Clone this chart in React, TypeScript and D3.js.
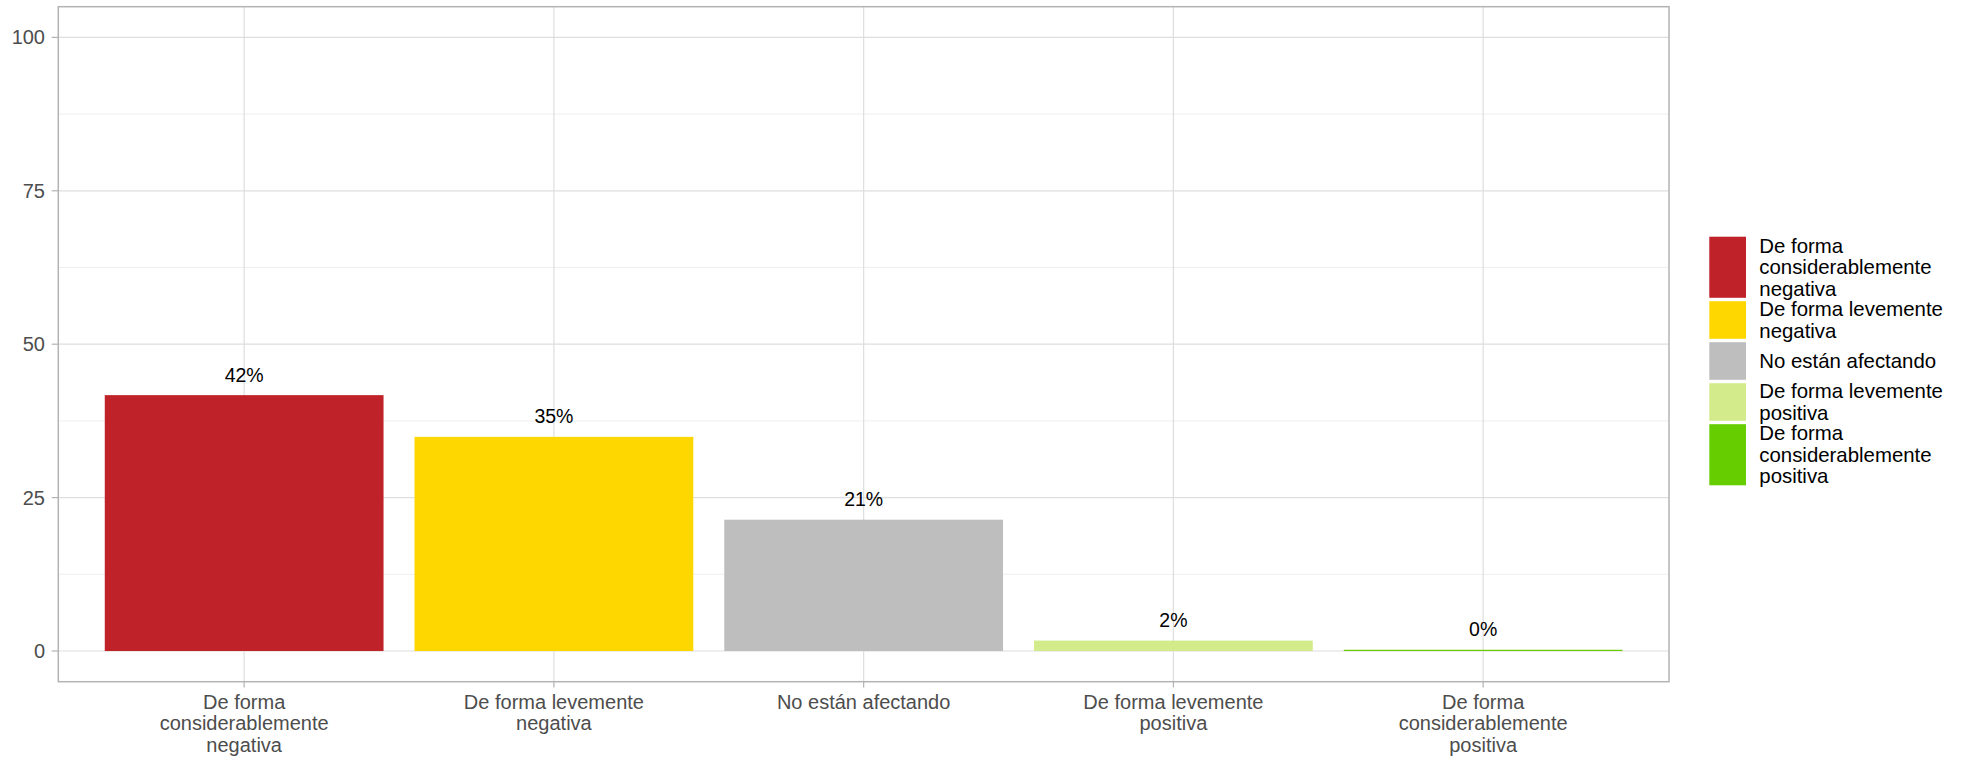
import React from "react";
import * as d3 from "d3";

const categories = [
  "De forma considerablemente negativa",
  "De forma levemente negativa",
  "No están afectando",
  "De forma levemente positiva",
  "De forma considerablemente positiva",
];
const values = [41.7, 34.9, 21.4, 1.7, 0.2];
const colors = ["#C0222A", "#FFD700", "#BEBEBE", "#D3EB8A", "#66CD00"];
const axisLabelLines = [
  ["De forma", "considerablemente", "negativa"],
  ["De forma levemente", "negativa"],
  ["No están afectando"],
  ["De forma levemente", "positiva"],
  ["De forma", "considerablemente", "positiva"],
];
const legendLabelLines = [
  ["De forma", "considerablemente", "negativa"],
  ["De forma levemente", "negativa"],
  ["No están afectando"],
  ["De forma levemente", "positiva"],
  ["De forma", "considerablemente", "positiva"],
];
const yTicks = [0, 25, 50, 75, 100];
const yMinorTicks = [12.5, 37.5, 62.5, 87.5];

const W = 1970;
const H = 760;
const panel = { left: 58.3, right: 1669, top: 6.7, bottom: 681.7 };
const FONT = "'Liberation Sans', Arial, Helvetica, sans-serif";
const FS = 20;
const LH = 21.6;

export default function App() {
  const x = d3
    .scaleBand<string>()
    .domain(categories)
    .range([panel.left, panel.right])
    .paddingInner(0.1)
    .paddingOuter(0.15);
  const y = d3.scaleLinear().domain([-5, 105]).range([panel.bottom, panel.top]);
  const fmt = (v: number) => d3.format(".0f")(v) + "%";

  // legend layout
  const legendTop = 235;
  const keyX0 = 1709.3;
  const keyX1 = 1746;
  const textX = 1759.3;
  let acc = legendTop;
  const slots = legendLabelLines.map((lines) => {
    const h = lines.length >= 3 ? 64.5 : 41;
    const s = { y0: acc, h };
    acc += h;
    return s;
  });

  return (
    <svg
      width={W}
      height={H}
      style={{ position: "fixed", left: 0, top: 0, background: "#fff" }}
      fontFamily={FONT}
    >
      <rect x={0} y={0} width={W} height={H} fill="#fff" />
      {/* minor grid */}
      {yMinorTicks.map((t) => (
        <line
          key={"mn" + t}
          x1={panel.left}
          x2={panel.right}
          y1={y(t)}
          y2={y(t)}
          stroke="#EBEBEB"
          strokeWidth={0.8}
        />
      ))}
      {/* major grid */}
      {yTicks.map((t) => (
        <line
          key={"mj" + t}
          x1={panel.left}
          x2={panel.right}
          y1={y(t)}
          y2={y(t)}
          stroke="#DEDEDE"
          strokeWidth={1.2}
        />
      ))}
      {categories.map((c) => {
        const cx = (x(c) as number) + x.bandwidth() / 2;
        return (
          <line
            key={"vg" + c}
            x1={cx}
            x2={cx}
            y1={panel.top}
            y2={panel.bottom}
            stroke="#DEDEDE"
            strokeWidth={1.2}
          />
        );
      })}
      {/* bars */}
      {categories.map((c, i) => (
        <rect
          key={"b" + c}
          x={x(c) as number}
          width={x.bandwidth()}
          y={y(values[i])}
          height={y(0) - y(values[i])}
          fill={colors[i]}
        />
      ))}
      {/* bar labels */}
      {categories.map((c, i) => (
        <text
          key={"l" + c}
          x={(x(c) as number) + x.bandwidth() / 2}
          y={y(values[i]) - 13.5}
          textAnchor="middle"
          fontSize={19.5}
          fill="#000"
        >
          {fmt(values[i])}
        </text>
      ))}
      {/* panel border */}
      <rect
        x={panel.left}
        y={panel.top}
        width={panel.right - panel.left}
        height={panel.bottom - panel.top}
        fill="none"
        stroke="#B3B3B3"
        strokeWidth={1.5}
      />
      {/* y axis */}
      {yTicks.map((t) => (
        <g key={"yt" + t}>
          <line x1={51.7} x2={panel.left} y1={y(t)} y2={y(t)} stroke="#B3B3B3" strokeWidth={1.2} />
          <text x={45} y={y(t) + 7} textAnchor="end" fontSize={FS} fill="#4D4D4D">
            {t}
          </text>
        </g>
      ))}
      {/* x axis */}
      {categories.map((c, i) => {
        const cx = (x(c) as number) + x.bandwidth() / 2;
        return (
          <g key={"xt" + c}>
            <line x1={cx} x2={cx} y1={panel.bottom} y2={panel.bottom + 5.8} stroke="#B3B3B3" strokeWidth={1.2} />
            <text textAnchor="middle" fontSize={FS} fill="#4D4D4D">
              {axisLabelLines[i].map((ln, j) => (
                <tspan key={j} x={cx} y={708.5 + j * LH}>
                  {ln}
                </tspan>
              ))}
            </text>
          </g>
        );
      })}
      {/* legend */}
      {legendLabelLines.map((lines, i) => {
        const s = slots[i];
        const cy = s.y0 + s.h / 2;
        const n = lines.length;
        return (
          <g key={"lg" + i}>
            <rect
              x={keyX0}
              y={s.y0 + 1.7}
              width={keyX1 - keyX0}
              height={s.h - 3.4}
              fill={colors[i]}
            />
            <text fontSize={20.4} fill="#000">
              {lines.map((ln, j) => (
                <tspan key={j} x={textX} y={cy + 7 + (j - (n - 1) / 2) * 21.3}>
                  {ln}
                </tspan>
              ))}
            </text>
          </g>
        );
      })}
    </svg>
  );
}
